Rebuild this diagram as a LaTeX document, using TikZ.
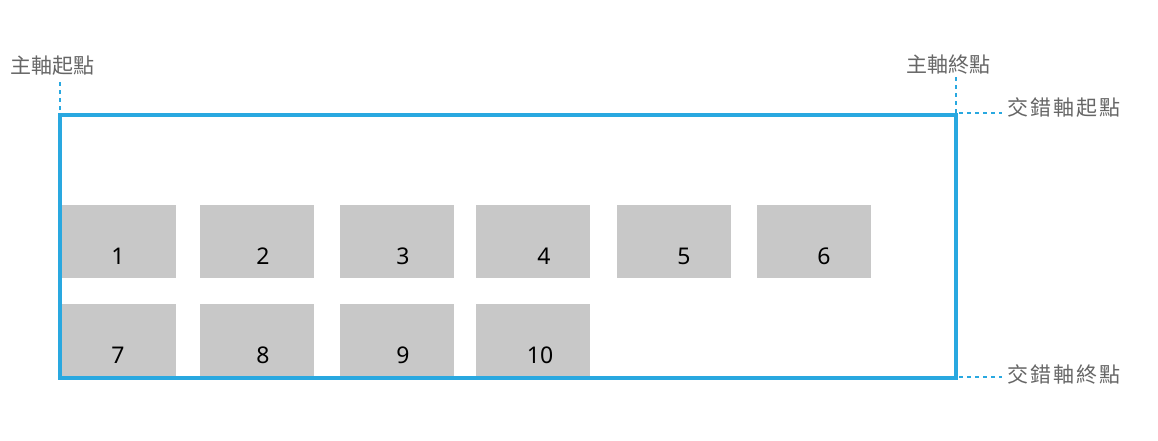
\documentclass[tikz,border=0pt]{standalone}
\usepackage{fontspec}
\setmainfont{Noto Sans}
\newfontfamily\cjk{Noto Sans CJK TC}
\definecolor{axisblue}{HTML}{29A8E0}
\definecolor{boxgray}{HTML}{C8C8C8}
\definecolor{labelgray}{HTML}{666666}
\newcommand{\lgap}{\hspace{2pt}}
\begin{document}
\begin{tikzpicture}[x=1pt,y=-1pt,
  item/.style={fill=boxgray,draw=none,minimum width=114pt,minimum height=73pt,inner sep=0pt,anchor=north west},
  num/.style={font=\fontsize{23}{25}\selectfont,text=black,inner sep=0pt},
  lbl/.style={font=\cjk\fontsize{21}{24}\selectfont,text=labelgray,inner sep=0pt},
  guide/.style={draw=axisblue,line width=1.6pt,dash pattern=on 4pt off 4pt}]
\useasboundingbox (0,0) rectangle (1158,440);
% items
\foreach \n/\x/\y in {1/62/205,2/200/205,3/340/205,4/476/205,5/617/205,6/757/205,7/62/304,8/200/304,9/340/304,10/476/304}{
  \node[item] (b\n) at (\x,\y) {};
}
\foreach \n/\x/\y in {1/118/256,2/263/256,3/403/256,4/544/256,5/684/256,6/824/256,7/118/355,8/263/355,9/403/355,10/540/355}{
  \node[num] (t\n) at (\x,\y) {\n};
}
% container
\draw[axisblue,line width=4pt] (60,115) rectangle (956,378);
\coordinate (tl) at (60,113);
\coordinate (tr) at (956,113);
\coordinate (br) at (958,377);
% labels
\node[lbl,anchor=west] (mstart) at (10,66) {主軸起點};
\node[lbl,anchor=west] (mend) at (906,65) {主軸終點};
\node[lbl,anchor=west] (cstart) at (1007,108) {交\lgap 錯\lgap 軸\lgap 起\lgap 點};
\node[lbl,anchor=west] (cend) at (1007,374) {交\lgap 錯\lgap 軸\lgap 終\lgap 點};
% guides
\draw[guide] (60,82) -- (tl);
\draw[guide] (956,77) -- (tr);
\draw[guide] (959,113) -- (1002,113);
\draw[guide] (959,377) -- (1002,377);
\end{tikzpicture}
\end{document}
